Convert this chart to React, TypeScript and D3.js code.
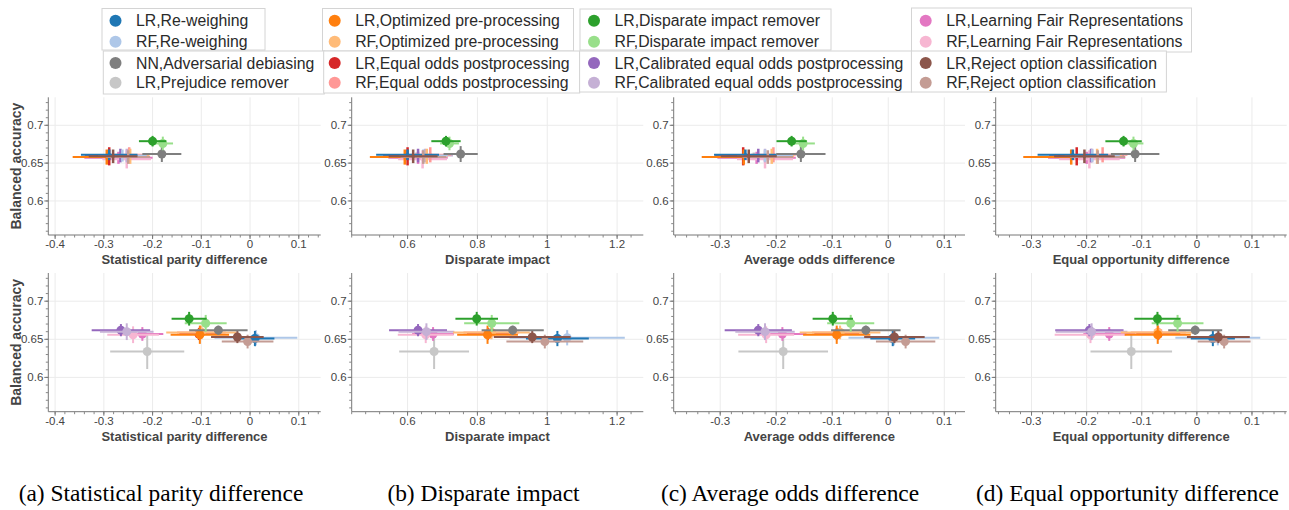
import React from "react";
import * as d3 from "d3";

// ---------- data ----------
const seriesNames = [
  "LR,Re-weighing", "RF,Re-weighing", "NN,Adversarial debiasing", "LR,Prejudice remover",
  "LR,Optimized pre-processing", "RF,Optimized pre-processing", "LR,Equal odds postprocessing", "RF,Equal odds postprocessing",
  "LR,Disparate impact remover", "RF,Disparate impact remover", "LR,Calibrated equal odds postprocessing", "RF,Calibrated equal odds postprocessing",
  "LR,Learning Fair Representations", "RF,Learning Fair Representations", "LR,Reject option classification", "RF,Reject option classification",
];
const seriesColors = [
  "#1f77b4", "#aec7e8", "#7f7f7f", "#c7c7c7", "#ff7f0e", "#ffbb78", "#d62728", "#ff9896",
  "#2ca02c", "#98df8a", "#9467bd", "#c5b0d5", "#e377c2", "#f7b6d2", "#8c564b", "#c49c94",
];

// balanced accuracy (shared by all metrics of a row)
const topY = [0.661, 0.660, 0.662, 0.659, 0.658, 0.659, 0.659, 0.661, 0.679, 0.676, 0.660, 0.660, 0.657, 0.655, 0.659, 0.658];
const topYErr = [0.007, 0.008, 0.0105, 0.005, 0.010, 0.010, 0.012, 0.010, 0.007, 0.009, 0.009, 0.009, 0.008, 0.012, 0.009, 0.009];
const bottomY = [0.651, 0.652, 0.662, 0.634, 0.656, 0.659, 0.657, 0.659, 0.677, 0.671, 0.662, 0.660, 0.657, 0.656, 0.653, 0.647];
const bottomYErr = [0.010, 0.010, 0.006, 0.023, 0.012, 0.009, 0.008, 0.008, 0.009, 0.011, 0.008, 0.011, 0.009, 0.011, 0.008, 0.009];

// Statistical parity difference
const spdTopX = [-0.289, -0.262, -0.181, -0.27, -0.294, -0.246, -0.289, -0.248, -0.2, -0.179, -0.266, -0.253, -0.27, -0.253, -0.281, -0.25];
const spdTopXErr = [0.058, 0.05, 0.04, 0.05, 0.07, 0.04, 0.05, 0.04, 0.028, 0.021, 0.05, 0.045, 0.07, 0.05, 0.05, 0.045];
const spdBottomX = [0.01, 0.012, -0.065, -0.211, -0.103, -0.1, -0.105, -0.1, -0.125, -0.091, -0.265, -0.253, -0.221, -0.24, -0.026, -0.005];
const spdBottomXErr = [0.04, 0.085, 0.06, 0.076, 0.06, 0.072, 0.04, 0.05, 0.036, 0.043, 0.06, 0.055, 0.043, 0.053, 0.054, 0.053];

// Disparate impact
const diTopX = [0.6, 0.645, 0.752, 0.625, 0.592, 0.655, 0.6, 0.665, 0.71, 0.72, 0.63, 0.65, 0.63, 0.643, 0.616, 0.645];
const diTopXErr = [0.09, 0.07, 0.049, 0.07, 0.1, 0.06, 0.07, 0.06, 0.042, 0.027, 0.08, 0.08, 0.085, 0.07, 0.07, 0.065];
const diBottomX = [1.029, 1.057, 0.901, 0.676, 0.829, 0.84, 0.83, 0.84, 0.798, 0.841, 0.63, 0.654, 0.673, 0.652, 0.957, 0.993];
const diBottomXErr = [0.09, 0.165, 0.089, 0.1, 0.087, 0.11, 0.06, 0.08, 0.061, 0.079, 0.083, 0.08, 0.06, 0.08, 0.11, 0.11];

// Average odds difference
const aodTopX = [-0.255, -0.22, -0.156, -0.24, -0.258, -0.208, -0.259, -0.205, -0.1725, -0.152, -0.232, -0.22, -0.235, -0.22, -0.249, -0.215];
const aodTopXErr = [0.056, 0.05, 0.044, 0.05, 0.075, 0.04, 0.05, 0.04, 0.027, 0.021, 0.055, 0.05, 0.07, 0.05, 0.05, 0.045];
const aodBottomX = [0.008, 0.01, -0.04, -0.1875, -0.092, -0.086, -0.092, -0.086, -0.099, -0.067, -0.232, -0.22, -0.189, -0.218, 0.011, 0.031];
const aodBottomXErr = [0.04, 0.081, 0.062, 0.08, 0.06, 0.072, 0.04, 0.05, 0.036, 0.042, 0.06, 0.053, 0.043, 0.05, 0.054, 0.053];

// Equal opportunity difference
const eodTopX = [-0.225, -0.19, -0.112, -0.2, -0.228, -0.181, -0.218, -0.171, -0.133, -0.115, -0.192, -0.19, -0.2, -0.195, -0.204, -0.18];
const eodTopXErr = [0.064, 0.05, 0.044, 0.05, 0.087, 0.045, 0.05, 0.045, 0.033, 0.018, 0.06, 0.055, 0.07, 0.055, 0.055, 0.05];
const eodBottomX = [0.029, 0.038, -0.003, -0.119, -0.071, -0.071, -0.07, -0.07, -0.0715, -0.035, -0.195, -0.191, -0.159, -0.193, 0.039, 0.0495];
const eodBottomXErr = [0.04, 0.077, 0.049, 0.074, 0.06, 0.067, 0.04, 0.05, 0.042, 0.047, 0.062, 0.065, 0.047, 0.065, 0.057, 0.048];

const metricTitles = ["Statistical parity difference", "Disparate impact", "Average odds difference", "Equal opportunity difference"];
const metricTicks = [
  [-0.4, -0.3, -0.2, -0.1, 0, 0.1],
  [0.6, 0.8, 1, 1.2],
  [-0.3, -0.2, -0.1, 0, 0.1],
  [-0.3, -0.2, -0.1, 0, 0.1],
];
const metricDomains = [
  [-0.414, 0.145],
  [0.44, 1.275],
  [-0.383, 0.137],
  [-0.365, 0.163],
];
const yTicks = [0.6, 0.65, 0.7];
const yDomain = [0.555, 0.737];
const yAxisTitle = "Balanced accuracy";
const captions = [
  "(a) Statistical parity difference",
  "(b) Disparate impact",
  "(c) Average odds difference",
  "(d) Equal opportunity difference",
];

const rowData = [
  {
    y: topY, yErr: topYErr,
    x: [spdTopX, diTopX, aodTopX, eodTopX],
    xErr: [spdTopXErr, diTopXErr, aodTopXErr, eodTopXErr],
  },
  {
    y: bottomY, yErr: bottomYErr,
    x: [spdBottomX, diBottomX, aodBottomX, eodBottomX],
    xErr: [spdBottomXErr, diBottomXErr, aodBottomXErr, eodBottomXErr],
  },
];

// ---------- layout / style ----------
const W = 1289;
const H = 510;
const panelX = [[48.3, 320.7], [351.7, 643.3], [673.7, 965], [995.7, 1286.7]];
const rowY = [[97.3, 235], [273, 411.7]];
const FONT = "'Liberation Sans', Arial, Helvetica, sans-serif";
const drawOrder = [3, 12, 13, 10, 11, 6, 7, 5, 4, 1, 0, 15, 14, 2, 9, 8];
const topHighlighted = new Set([2, 8, 9]);

// legend boxes (drawn in this order so overlaps look like the original)
const legendBoxes = [
  { x: 102, y: 8.5, w: 163, h: 41.5, dot: 115.5, a: 0, b: 1 },
  { x: 322.5, y: 8.5, w: 251, h: 42.5, dot: 334.7, a: 4, b: 5 },
  { x: 580, y: 9, w: 251, h: 41, dot: 594, a: 8, b: 9 },
  { x: 911.5, y: 8, w: 280, h: 44, dot: 925.7, a: 12, b: 13 },
  { x: 103.3, y: 51, w: 221, h: 43, dot: 115.5, a: 2, b: 3 },
  { x: 323.7, y: 51, w: 256, h: 42, dot: 334.7, a: 6, b: 7 },
  { x: 579.6, y: 51, w: 332, h: 41, dot: 594, a: 10, b: 11 },
  { x: 911.4, y: 51, w: 255, h: 41, dot: 925.7, a: 14, b: 15 },
];
const legendRowY = [[20.7, 41.7], [63, 82.7]];

const fmt = (v: number) => {
  const r = Math.round(v * 1000) / 1000;
  return String(r);
};

function Panel({ col, row }: { col: number; row: number }) {
  const xs = d3.scaleLinear().domain(metricDomains[col]).range(panelX[col]);
  const ys = d3.scaleLinear().domain(yDomain).range([rowY[row][1], rowY[row][0]]);
  const [x0, x1] = panelX[col];
  const [yTop, yBot] = rowY[row];
  const ticks = metricTicks[col];
  const step = (ticks[1] - ticks[0]) / 5;
  const d = metricDomains[col];
  const minorX: number[] = [];
  for (let k = Math.ceil((d[0] - ticks[0]) / step - 1e-9); k <= Math.floor((d[1] - ticks[0]) / step + 1e-9); k++) {
    minorX.push(ticks[0] + k * step);
  }
  const minorY: number[] = [];
  for (let k = Math.ceil(yDomain[0] / 0.01); k <= Math.floor(yDomain[1] / 0.01); k++) minorY.push(k * 0.01);

  const data = rowData[row];
  const xv = data.x[col];
  const xe = data.xErr[col];

  return (
    <g>
      {ticks.map((t) => (
        <line key={"gx" + t} x1={xs(t)} x2={xs(t)} y1={yTop} y2={yBot} stroke="#ebebeb" strokeWidth={1} />
      ))}
      {yTicks.map((t) => (
        <line key={"gy" + t} x1={x0} x2={x1} y1={ys(t)} y2={ys(t)} stroke="#ebebeb" strokeWidth={1} />
      ))}
      <line x1={x0} x2={x1} y1={yBot} y2={yBot} stroke="#777" strokeWidth={1} />
      <line x1={x0} x2={x0} y1={yTop} y2={yBot} stroke="#777" strokeWidth={1} />
      {minorX.map((t, i) => (
        <line key={"mx" + i} x1={xs(t)} x2={xs(t)} y1={yBot} y2={yBot + 2.5} stroke="#888" strokeWidth={1} />
      ))}
      {ticks.map((t) => (
        <line key={"tx" + t} x1={xs(t)} x2={xs(t)} y1={yBot} y2={yBot + 4} stroke="#777" strokeWidth={1} />
      ))}
      {minorY.map((t, i) => (
        <line key={"my" + i} x1={x0 - 2.5} x2={x0} y1={ys(t)} y2={ys(t)} stroke="#888" strokeWidth={1} />
      ))}
      {yTicks.map((t) => (
        <line key={"ty" + t} x1={x0 - 4} x2={x0} y1={ys(t)} y2={ys(t)} stroke="#777" strokeWidth={1} />
      ))}
      {ticks.map((t) => (
        <text key={"lx" + t} x={xs(t)} y={yBot + 13} textAnchor="middle" fontFamily={FONT} fontSize={11.5} fill="#444">
          {fmt(t)}
        </text>
      ))}
      {yTicks.map((t) => (
        <text key={"ly" + t} x={x0 - 5} y={ys(t) + 4} textAnchor="end" fontFamily={FONT} fontSize={11.5} fill="#444">
          {fmt(t)}
        </text>
      ))}
      <text x={(x0 + x1) / 2} y={yBot + 29} textAnchor="middle" fontFamily={FONT} fontSize={13} fontWeight="bold" fill="#444">
        {metricTitles[col]}
      </text>
      {col === 0 && (
        <text
          transform={`translate(21,${(yTop + yBot) / 2}) rotate(-90)`}
          textAnchor="middle"
          fontFamily={FONT}
          fontSize={14}
          fontWeight="bold"
          fill="#444"
        >
          {yAxisTitle}
        </text>
      )}
      {drawOrder.map((i) => {
        const cx = xs(xv[i]);
        const cy = ys(data.y[i]);
        const big = row === 1 || topHighlighted.has(i);
        const r = big ? 4.5 : 1.8;
        const c = seriesColors[i];
        return (
          <g key={"s" + i}>
            <line x1={xs(xv[i] - xe[i])} x2={xs(xv[i] + xe[i])} y1={cy} y2={cy} stroke={c} strokeWidth={2} />
            <line x1={cx} x2={cx} y1={ys(data.y[i] - data.yErr[i])} y2={ys(data.y[i] + data.yErr[i])} stroke={c} strokeWidth={big ? 2 : 2.5} />
            <circle cx={cx} cy={cy} r={r} fill={c} />
          </g>
        );
      })}
    </g>
  );
}

function Legend() {
  return (
    <g>
      {legendBoxes.map((b, k) => {
        const rows = legendRowY[k < 4 ? 0 : 1];
        return (
          <g key={"lb" + k}>
            <rect x={b.x} y={b.y} width={b.w} height={b.h} fill="#fff" stroke="#d4d4d4" strokeWidth={1} />
            {[b.a, b.b].map((si, j) => (
              <g key={"li" + si}>
                <circle cx={b.dot} cy={rows[j]} r={6} fill={seriesColors[si]} />
                <text x={b.dot + 20.5} y={rows[j] + 5.5} fontFamily={FONT} fontSize={15.8} fill="#2a2a2a">
                  {seriesNames[si]}
                </text>
              </g>
            ))}
          </g>
        );
      })}
    </g>
  );
}

export default function App() {
  const captionX = [161, 483.5, 790, 1127.5];
  return (
    <svg
      width={W}
      height={H}
      viewBox={`0 0 ${W} ${H}`}
      style={{ position: "absolute", left: 0, top: 0, background: "#fff" }}
    >
      <rect x={0} y={0} width={W} height={H} fill="#fff" />
      {[0, 1].map((row) => [0, 1, 2, 3].map((col) => <Panel key={row + "-" + col} col={col} row={row} />))}
      <Legend />
      {captions.map((c, i) => (
        <text
          key={"cap" + i}
          x={captionX[i]}
          y={500.5}
          textAnchor="middle"
          fontFamily="'Liberation Serif', 'Times New Roman', serif"
          fontSize={23.4}
          fill="#000"
        >
          {c}
        </text>
      ))}
    </svg>
  );
}
